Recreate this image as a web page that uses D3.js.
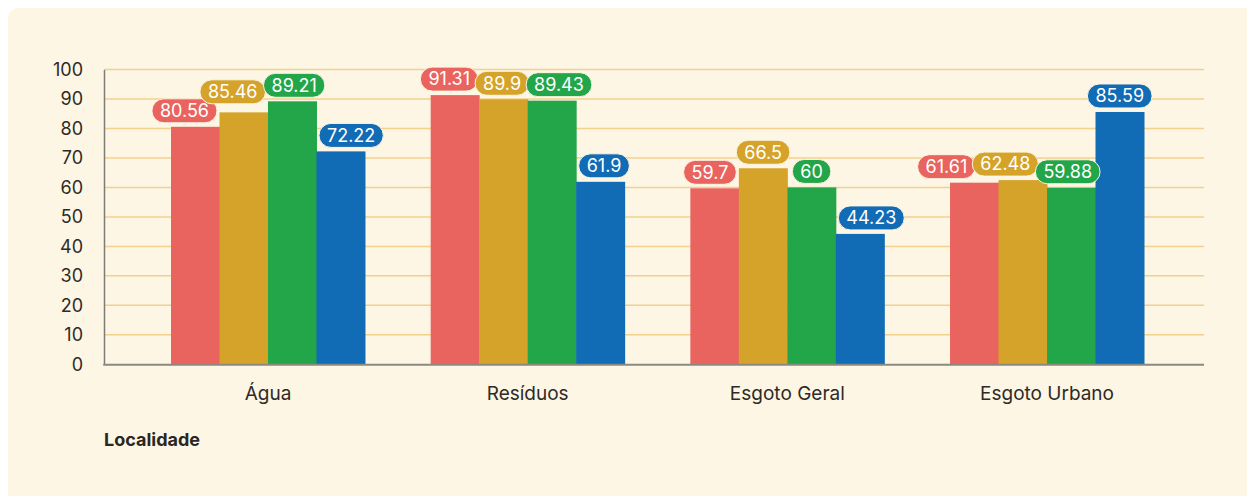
<!DOCTYPE html>
<html>
<head>
<meta charset="utf-8">
<script src="https://cdn.jsdelivr.net/npm/d3@7"></script>
<style>
  html, body { margin: 0; padding: 0; background: #ffffff; }
  svg { display: block; font-family: Inter, "Noto Sans", sans-serif; }
</style>
</head>
<body>
<svg id="chart" width="1247" height="496"></svg>
<script>
// ---- data ----
const categories = ["Água", "Resíduos", "Esgoto Geral", "Esgoto Urbano"];
const seriesNames = ["Série 1", "Série 2", "Série 3", "Série 4"];
const series1 = [80.56, 91.31, 59.7, 61.61];
const series2 = [85.46, 89.9, 66.5, 62.48];
const series3 = [89.21, 89.43, 60, 59.88];
const series4 = [72.22, 61.9, 44.23, 85.59];
const yTicks = [0, 10, 20, 30, 40, 50, 60, 70, 80, 90, 100];
const axisTitle = "Localidade";

const seriesValues = [series1, series2, series3, series4];
const colors = ["#e9645f", "#d5a329", "#23a64a", "#116bb5"];

// ---- layout ----
const W = 1247, H = 496;
const plotLeft = 104, plotRight = 1204, plotTop = 69.5, plotBottom = 364.3;

const svg = d3.select("#chart");

svg.append("rect")
  .attr("x", 8).attr("y", 8).attr("width", W + 20).attr("height", H + 20)
  .attr("rx", 10).attr("fill", "#fdf6e4");

const y = d3.scaleLinear().domain([0, 100]).range([plotBottom, plotTop]);
const x0 = d3.scaleBand().domain(categories).range([171, 1144]).paddingInner(0.253);
const x1 = d3.scaleBand().domain(d3.range(seriesNames.length)).range([0, x0.bandwidth()]).padding(0);

// gridlines
svg.append("g").selectAll("line")
  .data(yTicks.filter(t => t > 0))
  .join("line")
  .attr("x1", plotLeft).attr("x2", plotRight)
  .attr("y1", d => y(d)).attr("y2", d => y(d))
  .attr("stroke", "#f3d08e").attr("stroke-width", 1.5);

// y axis
const yAxis = svg.append("g")
  .attr("transform", `translate(${plotLeft},0)`)
  .call(d3.axisLeft(y).tickValues(yTicks).tickSize(0).tickPadding(21));
yAxis.select(".domain").attr("stroke", "#7f7b76").attr("stroke-width", 1.5);
yAxis.selectAll("text").attr("font-size", 18).attr("fill", "#2e2a27")
  .attr("font-family", "Inter, sans-serif");

// bars
const bars = [];
categories.forEach((c, ci) => {
  seriesValues.forEach((vals, si) => {
    bars.push({ ci, si, value: vals[ci],
      x: x0(c) + x1(si), w: x1.bandwidth(), top: y(vals[ci]) });
  });
});

svg.append("g").selectAll("rect")
  .data(bars)
  .join("rect")
  .attr("x", d => d.x).attr("width", d => d.w + 0.5)
  .attr("y", d => d.top).attr("height", d => plotBottom - d.top)
  .attr("fill", d => colors[d.si]);

// x axis
const xAxis = svg.append("g")
  .attr("transform", `translate(0,${plotBottom})`)
  .call(d3.axisBottom(x0).tickSize(0).tickPadding(22));
xAxis.select(".domain").remove();
xAxis.selectAll("text").attr("font-size", 19).attr("fill", "#2e2a27")
  .attr("font-family", "Inter, sans-serif");
svg.append("line")
  .attr("x1", plotLeft - 0.75).attr("x2", plotRight)
  .attr("y1", plotBottom + 0.5).attr("y2", plotBottom + 0.5)
  .attr("stroke", "#8c8882").attr("stroke-width", 2);

// axis title
svg.append("text")
  .attr("x", plotLeft).attr("y", 446)
  .attr("font-size", 18).attr("font-weight", 700).attr("fill", "#2a2623")
  .text(axisTitle);

// ---- value labels (pills) with simple collision avoidance ----
const pillH = 24, padX = 8, gapBar = 4;
const labelG = svg.append("g");
const labels = bars.map(b => {
  const g = labelG.append("g");
  const t = g.append("text")
    .attr("font-size", 18).attr("fill", "#ffffff")
    .attr("text-anchor", "middle").attr("dy", "0.35em")
    .text(String(b.value));
  const tw = t.node().getComputedTextLength();
  const w = tw + padX * 2;
  return { b, g, t, w, cx: b.x + b.w / 2,
    y0: b.top - gapBar - pillH, y1: b.top - gapBar };
});

const barMargin = 2.5, vTol = 10, hTol = 3, vAllow = 5;
for (let iter = 0; iter < 200; iter++) {
  labels.forEach(L => {
    // against other bars in the same group
    bars.filter(o => o.ci === L.b.ci && o !== L.b).forEach(o => {
      const l = L.cx - L.w / 2, r = L.cx + L.w / 2;
      if (L.y1 > o.top + 0.5 && r > o.x - barMargin && l < o.x + o.w + barMargin) {
        if (o.x > L.b.x) L.cx -= (r - (o.x - barMargin)) * 0.5;
        else L.cx += ((o.x + o.w + barMargin) - l) * 0.5;
      }
    });
  });
  for (let i = 0; i < labels.length; i++) {
    for (let j = i + 1; j < labels.length; j++) {
      const A = labels[i], B = labels[j];
      if (A.b.ci !== B.b.ci) continue;
      const vOver = Math.min(A.y1, B.y1) - Math.max(A.y0, B.y0);
      if (vOver <= vTol) continue;
      const [Lf, Rt] = A.cx <= B.cx ? [A, B] : [B, A];
      const over = (Lf.cx + Lf.w / 2) - (Rt.cx - Rt.w / 2) - hTol;
      if (over > 0) { Lf.cx -= over * 0.25; Rt.cx += over * 0.25; }
    }
  }
}
// vertical pass: lift the higher pill where pills still overlap
for (let i = 0; i < labels.length; i++) {
  for (let j = i + 1; j < labels.length; j++) {
    const A = labels[i], B = labels[j];
    if (A.b.ci !== B.b.ci) continue;
    const [Lf, Rt] = A.cx <= B.cx ? [A, B] : [B, A];
    const hOver = (Lf.cx + Lf.w / 2) - (Rt.cx - Rt.w / 2);
    if (hOver <= hTol + 1) continue;
    const vOver = Math.min(A.y1, B.y1) - Math.max(A.y0, B.y0);
    if (vOver > vAllow) {
      const hi = A.y0 < B.y0 ? A : B;
      hi.y0 -= vOver - vAllow; hi.y1 -= vOver - vAllow;
    }
  }
}

labels.forEach(L => {
  L.g.attr("transform", `translate(${L.cx},${(L.y0 + L.y1) / 2})`);
  L.g.insert("rect", "text")
    .attr("x", -L.w / 2).attr("y", -pillH / 2)
    .attr("width", L.w).attr("height", pillH)
    .attr("rx", pillH / 2)
    .attr("fill", colors[L.b.si])
    .attr("stroke", "#fdf6e4").attr("stroke-width", 1);
});
</script>
</body>
</html>
